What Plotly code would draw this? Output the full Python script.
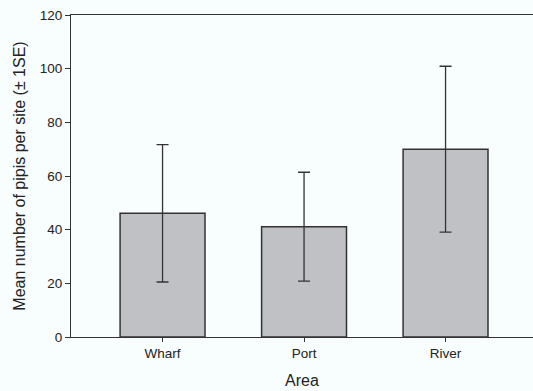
import plotly.graph_objects as go

# Mean pipi counts per site with one standard error
areas = ["Wharf", "Port", "River"]
mean_pipis = [46.1, 41.1, 70.0]
se_pipis = [25.6, 20.3, 30.9]
y_ticks = [0, 20, 40, 60, 80, 100, 120]

bg = "#f8fdfe"
dark = "#333333"

fig = go.Figure(
    go.Bar(
        x=[0, 1, 2],
        y=mean_pipis,
        width=0.6,
        marker=dict(color="#c0c1c4", line=dict(color=dark, width=1.5)),
        error_y=dict(type="data", array=se_pipis, visible=True,
                     color=dark, thickness=1.3, width=6),
    )
)

fig.update_layout(
    width=533,
    height=391,
    margin=dict(l=71, r=0, t=15, b=54),
    paper_bgcolor=bg,
    plot_bgcolor=bg,
    showlegend=False,
    font=dict(family="Liberation Sans, Arial, sans-serif", color="#222222", size=13.5),
    xaxis=dict(
        range=[-0.647, 2.618],
        tickmode="array",
        tickvals=[0, 1, 2],
        ticktext=areas,
        ticks="outside",
        ticklen=4,
        tickcolor=dark,
        showline=True,
        linecolor=dark,
        linewidth=1.2,
        mirror=True,
        showgrid=False,
        zeroline=False,
        title=dict(text="Area", font=dict(size=16), standoff=14),
    ),
    yaxis=dict(
        range=[0, 120],
        tickvals=y_ticks,
        ticks="outside",
        ticklen=5,
        tickcolor=dark,
        showline=True,
        linecolor=dark,
        linewidth=1.2,
        showgrid=False,
        zeroline=False,
        title=dict(text="Mean number of pipis per site (\u00b1 1SE)", font=dict(size=16), standoff=10),
    ),
)

fig.write_html("out.html")
